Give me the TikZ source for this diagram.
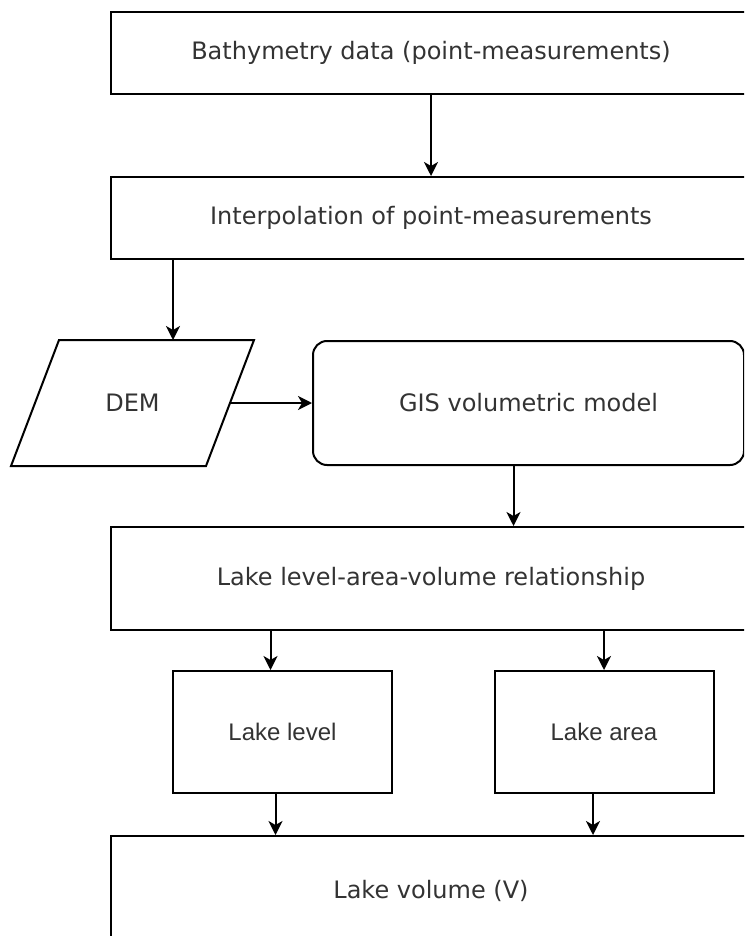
\documentclass[tikz,border=0pt]{standalone}
\usepackage{fontspec}
\setsansfont{DejaVu Sans}
\newfontfamily\lakefont{Liberation Sans}
\usetikzlibrary{arrows.meta}

\tikzset{
  box/.style={draw,rectangle,inner sep=0pt,minimum width=640pt,text=black!80,
    font=\sffamily\fontsize{24}{28}\selectfont},
  smallbox/.style={draw,rectangle,inner sep=0pt,minimum width=219pt,minimum height=122pt,
    text=black!80,font=\lakefont\fontsize{24}{28}\selectfont},
  datatext/.style={rectangle,inner sep=0pt,minimum width=193pt,minimum height=124pt,
    text=black!80,font=\sffamily\fontsize{24}{28}\selectfont},
  flow/.style={-{Stealth[length=14pt,width=14pt,inset=4pt]}}
}

\begin{document}
\begin{tikzpicture}[x=1pt,y=-1pt,line width=2pt]

  \useasboundingbox (0,0) rectangle (744,936);
  \clip (0,0) rectangle (744,936);

  \node[box,minimum height=82pt] (bathy) at (431,53) {Bathymetry data (point-measurements)};
  \node[box,minimum height=82pt] (interp) at (431,218) {Interpolation of point-measurements};
  \node[datatext] (dem) at (132.5,403) {DEM};
  \draw ([xshift=24pt]dem.north west) -- ([xshift=24pt]dem.north east)
    -- ([xshift=-24pt]dem.south east) -- ([xshift=-24pt]dem.south west) -- cycle;
  \node[box,rounded corners=14pt,minimum width=431pt,minimum height=124pt] (gis) at (528.5,403) {GIS volumetric model};
  \node[box,minimum height=103pt] (rel) at (431,578.5) {Lake level-area-volume relationship};
  \node[smallbox] (level) at (282.5,732) {Lake level};
  \node[smallbox] (area) at (604,732) {Lake area};
  \node[box,minimum height=110pt] (vol) at (431,891) {Lake volume (V)};

  \draw[flow] (bathy) -- (interp);
  \draw[flow] ([xshift=63pt]interp.south west) -- ([xshift=63pt]interp.south west |- dem.north);
  \draw[flow] (dem) -- (gis);
  \draw[flow] ([xshift=-15pt]gis.south) -- ([xshift=-15pt]gis.south |- rel.north);

  % two outputs of the relationship
  \draw[flow] ([xshift=-12pt]level.north |- rel.south) -- ([xshift=-12pt]level.north);
  \draw[flow] (area.north |- rel.south) -- (area.north);
  \draw[flow] ([xshift=-7pt]level.south) -- ([xshift=-7pt]level.south |- vol.north);
  \draw[flow] ([xshift=-11pt]area.south) -- ([xshift=-11pt]area.south |- vol.north);

\end{tikzpicture}
\end{document}
